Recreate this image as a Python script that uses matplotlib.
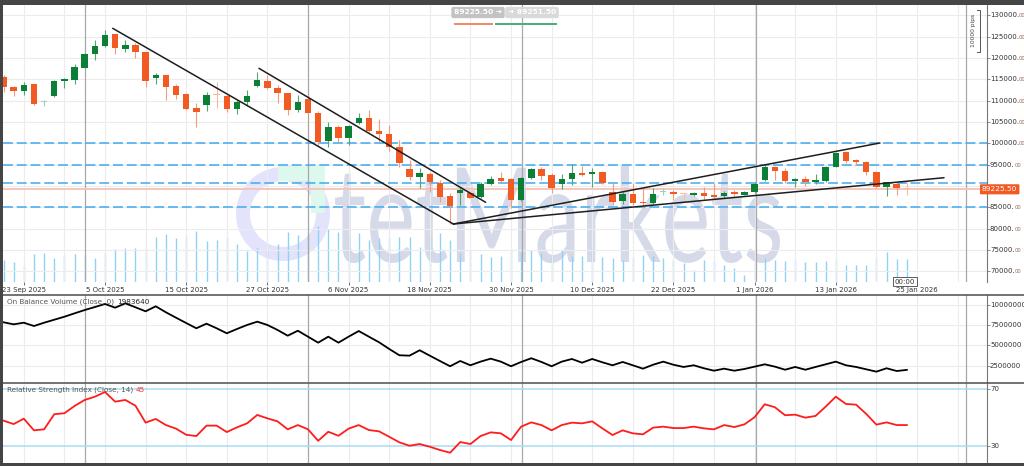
import matplotlib
matplotlib.use("Agg")
import matplotlib.pyplot as plt
import numpy as np
from matplotlib.patches import Rectangle, Wedge, PathPatch
from matplotlib.textpath import TextPath
from matplotlib.font_manager import FontProperties
from matplotlib.transforms import Affine2D, blended_transform_factory
from matplotlib.lines import Line2D

# ---------------- data ----------------
opens = [115600, 113100, 112250, 113800, 109700, 111080, 114520, 114830, 117700, 120840,
         122790, 125530, 122090, 123020, 121310, 115220, 116000, 113420, 111480, 108200,
         108970, 111430, 111080, 107960, 109740, 113490, 114660, 113020, 111710, 107800,
         110300, 107170, 100540, 103890, 101310, 104680, 105860, 102950, 102180, 99060,
         93910, 92180, 92740, 90770, 87660, 88290, 88430, 87350, 90470, 91800,
         91570, 86720, 91940, 94050, 92580, 90470, 91640, 93040, 92740, 93350,
         88660, 86490, 88130, 86320, 85950, 88480, 88600, 88130, 87960, 88290,
         87890, 87660, 88660, 87960, 88660, 91400, 94520, 93580, 91240, 91570,
         91010, 91240, 94520, 97960, 96090, 95690, 93350, 89700, 90470, 89300]
highs = [116000, 113500, 114300, 113900, 110150, 114820, 115220, 118500, 121150, 124190,
         126460, 125700, 124260, 123420, 121380, 116390, 116110, 113890, 111710, 109370,
         112080, 114290, 111310, 110140, 112480, 116630, 116000, 113650, 111780, 111310,
         110370, 107630, 105060, 104290, 104290, 107030, 107800, 105620, 104290, 100770,
         96090, 94150, 93350, 91400, 88430, 89840, 88900, 90940, 92410, 93350,
         91800, 92110, 94290, 94520, 93110, 92740, 95150, 94680, 94150, 93510,
         90630, 88520, 90770, 89460, 89530, 89530, 89060, 88200, 88660, 89840,
         90630, 88830, 89060, 88830, 91010, 94920, 94680, 94150, 91800, 92340,
         92810, 94680, 98030, 98270, 96250, 95920, 93510, 91010, 90630, 91000]
lows = [112100, 111100, 111300, 108900, 108800, 110910, 112880, 113960, 117560, 119510,
        122620, 120840, 121310, 119910, 113260, 113820, 110140, 110380, 107800, 103890,
        107630, 108200, 107260, 106930, 108670, 113120, 112650, 109370, 106630, 107400,
        107030, 99600, 99200, 100370, 99600, 104520, 102720, 100370, 98270, 94520,
        91400, 89460, 88660, 86320, 81000, 85550, 87120, 87120, 90230, 91010,
        84780, 86490, 91570, 91400, 88290, 89230, 90230, 92340, 89840, 90400,
        85550, 85780, 85550, 84780, 85780, 87900, 86790, 86720, 87660, 86720,
        86880, 87120, 87660, 87820, 88290, 91240, 91400, 90630, 89700, 90000,
        90470, 91010, 94380, 95460, 94920, 92580, 89530, 87660, 87960, 88000]
closes = [113100, 112300, 113650, 109200, 109850, 114590, 114990, 117870, 120840, 122720,
          125360, 122250, 123020, 121310, 114660, 116000, 113190, 111310, 107960, 107260,
          111310, 111310, 107960, 109600, 111080, 114830, 113020, 111710, 107800, 109600,
          107170, 100370, 103890, 101310, 104050, 105860, 102950, 102180, 99060, 95320,
          92040, 92970, 90870, 87490, 85390, 89060, 87260, 90470, 91640, 91240,
          86720, 91940, 94050, 92340, 89600, 91640, 92970, 92650, 93350, 90630,
          86320, 88130, 86090, 85950, 88130, 88560, 88060, 88050, 88360, 87730,
          87490, 88430, 88130, 88660, 90400, 94520, 93440, 91170, 91640, 90870,
          91400, 94520, 97800, 95920, 95690, 93350, 89700, 90870, 89600, 89225.5]
volumes = [22, 20, 16, 28, 29, 24, 27, 28, 27, 24, 29, 33, 34, 34, 34, 45, 48, 44, 46, 51,
           41, 42, 45, 38, 31, 34, 33, 38, 50, 47, 49, 56, 53, 50, 46, 49, 42, 44, 45, 45,
           45, 35, 46, 49, 42, 29, 32, 28, 25, 26, 32, 30, 32, 29, 26, 32, 26, 26, 34, 25,
           24, 22, 24, 27, 26, 24, 22, 19, 12, 22, 21, 17, 14, 7, 20, 24, 22, 21, 22, 20,
           20, 21, 23, 17, 17, 17, 24, 30, 23, 23]
obv_millions = [7.87, 7.62, 7.82, 7.41, 7.82, 8.19, 8.56, 8.98, 9.39, 9.76,
                10.14, 9.68, 10.22, 9.73, 9.23, 9.85, 9.11, 8.44, 7.78, 7.13,
                7.70, 7.13, 6.51, 7.04, 7.54, 7.95, 7.54, 6.92, 6.21, 6.83,
                6.09, 5.35, 6.09, 5.35, 6.09, 6.79, 6.09, 5.40, 4.57, 3.79,
                3.74, 4.41, 3.74, 3.08, 2.43, 3.08, 2.55, 3.00, 3.37, 3.00,
                2.43, 2.96, 3.42, 2.96, 2.43, 3.00, 3.33, 2.87, 3.33, 2.92,
                2.55, 2.96, 2.55, 2.13, 2.62, 3.00, 2.62, 2.34, 2.55, 2.18,
                1.88, 2.13, 1.88, 2.09, 2.38, 2.67, 2.38, 2.00, 2.34, 2.00,
                2.34, 2.67, 3.00, 2.55, 2.34, 2.05, 1.76, 2.18, 1.84, 1.98]
rsi = [48.0, 45.6, 49.4, 41.2, 41.9, 52.5, 53.2, 58.3, 62.5, 64.8,
       68.1, 61.3, 62.5, 58.5, 46.6, 49.2, 44.9, 42.4, 38.1, 37.2,
       44.5, 44.5, 40.0, 43.3, 46.1, 52.0, 49.6, 47.5, 41.9, 44.9,
       41.9, 33.9, 40.2, 37.4, 42.4, 44.9, 41.4, 40.5, 36.7, 32.8,
       30.4, 31.6, 29.7, 27.4, 25.5, 33.0, 31.6, 37.2, 39.8, 39.1,
       34.4, 43.8, 46.8, 44.9, 41.2, 44.9, 46.6, 46.1, 47.5, 42.6,
       37.9, 41.2, 39.1, 38.4, 43.1, 43.8, 42.8, 42.8, 43.8, 42.6,
       41.9, 44.9, 43.5, 45.4, 50.4, 59.5, 57.4, 51.8, 52.2, 50.1,
       51.3, 57.8, 64.8, 59.7, 59.2, 52.7, 45.2, 46.8, 44.9, 44.9]

date_labels = ["23 Sep 2025", "5 Oct 2025", "15 Oct 2025", "27 Oct 2025", "6 Nov 2025",
               "18 Nov 2025", "30 Nov 2025", "10 Dec 2025", "22 Dec 2025", "1 Jan 2026",
               "13 Jan 2026", "25 Jan 2026"]
date_label_pos = [2, 10, 18, 26, 34, 42, 50, 58, 66, 74, 82, 90]
month_start_pos = [8, 30, 51.05, 74.1, 94.8]
price_ticks = [70000, 75000, 80000, 85000, 90000, 95000, 100000, 105000, 110000,
               115000, 120000, 125000, 130000]
price_tick_labels = [85000, 80000, 75000, 70000, 95000, 100000, 105000, 110000,
                     115000, 120000, 125000, 130000]
obv_ticks = [2500000, 5000000, 7500000, 10000000]
rsi_levels = [30, 70]
level_lines = [100000, 95000, 90800, 85000]
last_price = 89225.50
ask_price = 89251.50
obv_value = 1983640
rsi_value = 45
# trend lines: (candle index, price) pairs
trend_a_x, trend_a_y = [10.76, 44.32], [126930, 81100]
trend_b_x, trend_b_y = [25.17, 47.5], [117560, 86180]
trend_c_x, trend_c_y = [44.32, 86.35], [81100, 100070]
trend_d_x, trend_d_y = [44.32, 92.66], [81100, 91940]

# ---------------- layout ----------------
W, H = 1024, 466
fig = plt.figure(figsize=(W / 100, H / 100), dpi=100)
fig.patch.set_facecolor("white")
PX = Affine2D().scale(1 / W, -1 / H).translate(0, 1) + fig.transFigure


def rect(x0, y0, x1, y1):
    return [x0 / W, 1 - y1 / H, (x1 - x0) / W, (y1 - y0) / H]


XL, XR = 3, 987
STEP, X0 = 10.15, 3.5
XLIM = ((XL - X0) / STEP, (XR - X0) / STEP)
n = len(opens)
idx = np.arange(n)

GRID = "#ececec"
MONTH = "#a8a8a8"
TXT = "#333333"
FS = 5


def style_axes(ax, zorder=2):
    ax.set_facecolor("none")
    ax.set_zorder(zorder)
    ax.set_xlim(*XLIM)
    for s in ["left", "top", "bottom"]:
        ax.spines[s].set_visible(False)
    ax.spines["right"].set_color("#777777")
    ax.spines["right"].set_linewidth(0.8)
    ax.tick_params(axis="y", left=False, labelleft=False, right=True, labelright=False,
                   length=2, width=0.6, color="#777777")
    ax.tick_params(axis="x", bottom=False, labelbottom=False)
    for g in range(2, int(XLIM[1]) + 1, 4):
        ax.axvline(g, color=GRID, lw=0.8, zorder=0)
    for m in month_start_pos:
        ax.axvline(m, color=MONTH, lw=0.9, zorder=0.5)


def right_label(ax, y, s, small=None, color=TXT):
    tr = blended_transform_factory(ax.transAxes, ax.transData)
    t = ax.text(1 + 3 / 984, y, s, transform=tr, fontsize=FS, color=color,
                va="center", ha="left", clip_on=False)
    if small:
        ax.annotate(small, xy=(1 + 3 / 984, y), xycoords=tr,
                    xytext=(len(s) * 4.3 - 1.5, -0.6), textcoords="offset pixels",
                    fontsize=3.8, color="#9a6a50", va="center", ha="left",
                    annotation_clip=False)
    return t


# ---- volume axes (behind) ----
axv = fig.add_axes(rect(XL, 5, XR, 282))
axv.set_zorder(1)
axv.set_facecolor("none")
axv.set_xlim(*XLIM)
axv.set_ylim(0, 277)
axv.axis("off")
axv.vlines(idx, 0, volumes, color="#8fd3f4", lw=1.0)

# ---- price axes ----
ax = fig.add_axes(rect(XL, 5, XR, 282))
style_axes(ax, 2)
ax.set_ylim(67516, 132390)
ax.set_yticks(price_ticks)
for p in price_ticks:
    ax.axhline(p, color=GRID, lw=0.8, zorder=0)
ax.set_xticks(date_label_pos)
ax.set_xticklabels(date_labels)
ax.tick_params(axis="x", bottom=True, labelbottom=True, length=2.5, width=0.6,
               color="#555555", labelsize=FS, labelcolor=TXT, pad=1.2)
for p in price_tick_labels:
    right_label(ax, p, f"{p}.", small="00")

# levels
for lv in level_lines:
    ax.axhline(lv, color="#3fa9ef", lw=1.1, dashes=(6.5, 2.5), zorder=1)
ax.axhline(last_price, color="#f6c4bd", lw=1.4, zorder=0.8)

# candles
opens_a, closes_a = np.array(opens), np.array(closes)
up = closes_a >= opens_a
small = np.abs(closes_a - opens_a) < 200
body_col, wick_col = [], []
for u, s in zip(up, small):
    if u:
        body_col.append("#9fd1b3" if s else "#0a7f35")
        wick_col.append("#9fd1b3" if s else "#4ea872")
    else:
        body_col.append("#f8b8a2" if s else "#f15a22")
        wick_col.append("#f8b8a2" if s else "#f59b7c")
ax.vlines(idx, lows, highs, colors=wick_col, lw=0.8, zorder=3)
bottoms = np.minimum(opens_a, closes_a)
heights = np.maximum(np.abs(closes_a - opens_a), 260)
ax.bar(idx, heights, bottom=bottoms, width=0.64, color=body_col, linewidth=0, zorder=4)

# trend lines
for tx, ty in [(trend_a_x, trend_a_y), (trend_b_x, trend_b_y),
               (trend_c_x, trend_c_y), (trend_d_x, trend_d_y)]:
    ax.plot(tx, ty, color="#1e1e1e", lw=1.1, zorder=5, solid_capstyle="round")

# last price tag
trp = blended_transform_factory(ax.transAxes, ax.transData)
ax.text(1 - 5 / 984, last_price, f"{last_price:.2f}", transform=trp, fontsize=5.3,
        color="white", va="center", ha="left", clip_on=False, zorder=10,
        bbox=dict(boxstyle="round,pad=0.28,rounding_size=0.15", fc="#f15a22", ec="none"))

# ---- OBV axes ----
ax2 = fig.add_axes(rect(XL, 295, XR, 382))
style_axes(ax2, 2)
ax2.set_ylim(0.48e6, 11.25e6)
ax2.set_yticks(obv_ticks)
for v in obv_ticks:
    ax2.axhline(v, color=GRID, lw=0.8, zorder=0)
    right_label(ax2, v, f"{v}")
ax2.plot(idx, np.array(obv_millions) * 1e6, color="black", lw=1.3, zorder=3)

# ---- RSI axes ----
ax3 = fig.add_axes(rect(XL, 383, XR, 463))
style_axes(ax3, 2)
ax3.set_ylim(18.3, 74.4)
ax3.set_yticks(rsi_levels)
for r in rsi_levels:
    ax3.axhline(r, color="#a9dcf3", lw=1.1, zorder=1)
    right_label(ax3, r, f"{r}")
ax3.plot(idx, rsi, color="#ff1c1c", lw=1.3, zorder=3)

# panel headers
renderer = fig.canvas.get_renderer()


def header(x, y, s1, s2, c2):
    t = fig.text(x / W, 1 - y / H, s1, fontsize=5.2, color="#555555", va="center")
    bb = t.get_window_extent(renderer)
    fig.text((bb.x1 + 3) / W, 1 - y / H, s2, fontsize=5.2, color=c2, va="center")


header(7, 301.5, "On Balance Volume (Close, 0)", f"{obv_value}", "#222222")
header(7, 390, "Relative Strength Index (Close, 14)", f"{rsi_value}", "#ff2a2a")

# ---- watermark ----
fig.add_artist(Wedge((283, 214), 47, 0, 360, width=14, transform=PX,
                     fc="#e3e3fb", ec="none", zorder=0.5))
fig.add_artist(Rectangle((278, 166), 47, 15, transform=PX, fc="#ddf8ec", ec="none", zorder=0.6))
fig.add_artist(Rectangle((311, 166), 14, 47, transform=PX, fc="#ddf8ec", ec="none", zorder=0.6))
tp = TextPath((0, 0), "tetMarkets", size=100, prop=FontProperties(family="Lato"))
bb = tp.get_extents()
sx = (780 - 335) / (bb.x1 - bb.x0)
sy = (262 - 165) / bb.y1
wm_tr = Affine2D().translate(-bb.x0, 0).scale(sx, -sy).translate(335, 262) + PX
fig.add_artist(PathPatch(tp, transform=wm_tr, fc="#d6dae8", ec="none", zorder=0.5))

# ---- frame & separators ----
for y in (294.6, 382.5):
    fig.add_artist(Line2D([0, W], [y, y], transform=PX, color="#4d4d4d", lw=1.1, zorder=6))
fig.add_artist(Rectangle((0, 0), W, 4.5, transform=PX, fc="#454545", ec="none", zorder=7))
fig.add_artist(Rectangle((0, 0), 3, H, transform=PX, fc="#454545", ec="none", zorder=7))
fig.add_artist(Rectangle((0, 463), W, 3, transform=PX, fc="#454545", ec="none", zorder=7))

# ---- top info boxes ----
fig.text(478 / W, 1 - 12.5 / H, "89225.50 \u279c", ha="center", va="center", color="white",
         fontsize=5.4, fontweight="bold", zorder=8,
         bbox=dict(boxstyle="round,pad=0.35,rounding_size=0.25", fc="#c3c3c3", ec="none"))
fig.text(532 / W, 1 - 12.5 / H, f"\u279c {ask_price:.2f}", ha="center", va="center",
         color="white", fontsize=5.4, fontweight="bold", zorder=8,
         bbox=dict(boxstyle="round,pad=0.35,rounding_size=0.25", fc="#d9d9d9", ec="none"))
fig.add_artist(Rectangle((454, 22.6), 39, 2.6, transform=PX, fc="#f28a6c", ec="none", zorder=8))
fig.add_artist(Rectangle((495, 22.6), 62, 2.6, transform=PX, fc="#4caf7b", ec="none", zorder=8))

# ---- pips ruler ----
fig.text(974 / W, 1 - 30 / H, "10000 pips", rotation=90, fontsize=4.3, color="#444444",
         ha="center", va="center", zorder=8)
fig.add_artist(Line2D([977, 979.5, 979.5, 977], [9.5, 9.5, 52, 52], transform=PX,
                      color="#555555", lw=0.7, zorder=8))

# ---- time box ----
fig.text(905 / W, 1 - 281.5 / H, "00:00", ha="center", va="center", fontsize=5,
         color=TXT, zorder=8,
         bbox=dict(boxstyle="square,pad=0.2", fc="white", ec="#444444", lw=0.6))

fig.savefig("out.png", dpi=100, facecolor="white")
